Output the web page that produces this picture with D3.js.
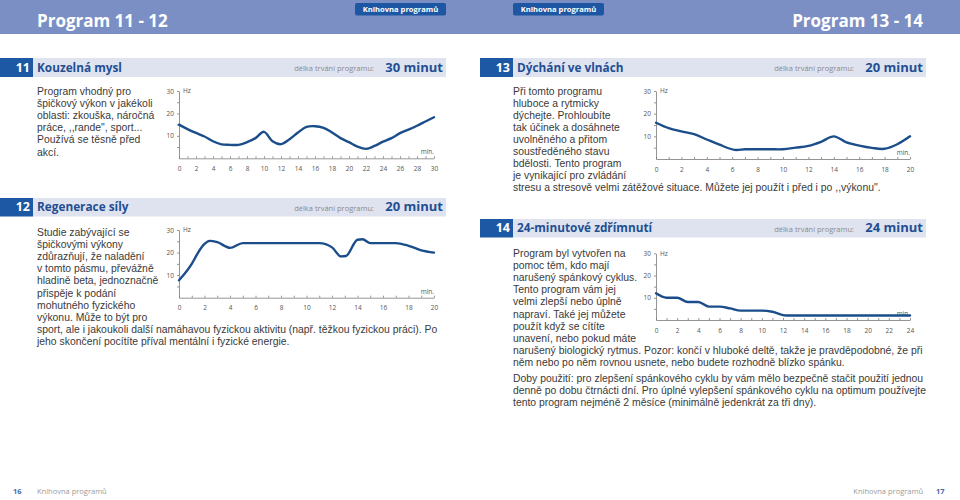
<!DOCTYPE html>
<html><head><meta charset="utf-8">
<script src="https://cdn.jsdelivr.net/npm/d3@7"></script>
<style>
body{margin:0;background:#fff;}
svg{display:block;font-family:"Liberation Sans",Arial,sans-serif;}
.axis text{font-family:"Open Sans",sans-serif;font-size:6.5px;fill:#555;}
.axis path,.axis line{stroke:#7a7a7a;stroke-width:0.8;}
</style></head><body>
<svg id="page" width="960" height="500"></svg>
<script>
// ---------- data ----------
const chart11Min = [0,1,2,3,4,5,6,7,8,9,10,11,12,13,14,15,16,17,18,19,20,21,22,23,24,25,26,27,28,29,30];
const chart11Hz  = [15,13,11.3,9.7,7.6,6.2,6,6,7.2,9,11.8,7.6,6.3,8.5,11.5,14,14.3,13.6,11.5,9,7.2,5.2,4.2,5.5,7.4,9,11.2,12.8,14.5,16.4,18.3];
const chart11Ticks = [0,2,4,6,8,10,12,14,16,18,20,22,24,26,28,30];

const chart12Min = [0,1,1.5,2,2.4,3,4,5,6,8,10,11,12,12.7,13.1,14,14.4,15,16,17,18,19,20];
const chart12Hz  = [7.7,15,20,23.8,25.2,24.6,22.1,24.2,24.2,24.2,24.2,24.2,22.3,18.3,18.5,25.7,25.9,24.2,24.2,24.2,23,21,20];
const chart12Ticks = [0,2,4,6,8,10,12,14,16,18,20];

const chart13Min = [0,1,2,3,4,5,6.2,7,8,9,10,11,12,13,14,15,16,17,18,19,20];
const chart13Hz  = [16,13.6,12.2,11,8.6,6.3,4,4.3,4.3,4.3,4.3,5,5.8,7.6,10,7.3,5.9,4.9,4.5,6.5,10];
const chart13Ticks = [0,2,4,6,8,10,12,14,16,18,20];

const chart14Min = [0,1,2,3,4,5,6,7,8,9,10,11,12.3,14,16,18,20,22,24];
const chart14Hz  = [12,10,10,8.1,8.1,6,6,5.2,4.2,4.2,4.2,3.7,2,2,2,2,2,2,2];
const chart14Ticks = [0,2,4,6,8,10,12,14,16,18,20,22,24];

const hzTicks = [10,20,30];

const text11 = ["Program vhodný pro","špičkový výkon v jakékoli","oblasti: zkouška, náročná","práce, ,,rande\", sport...","Používá se těsně před","akcí."];
const text12 = ["Studie zabývající se","špičkovými výkony","zdůrazňují, že naladění","v tomto pásmu, převážně","hladině beta, jednoznačně","přispěje k podání","mohutného fyzického","výkonu. Může to být pro","sport, ale i jakoukoli další namáhavou fyzickou aktivitu (např. těžkou fyzickou práci). Po","jeho skončení pocítíte příval mentální i fyzické energie."];
const text13 = ["Při tomto programu","hluboce a rytmicky","dýchejte. Prohloubíte","tak účinek a dosáhnete","uvolněného a přitom","soustředěného stavu","bdělosti. Tento program","je vynikající pro zvládání","stresu a stresově velmi zátěžové situace. Můžete jej použít i před i po ,,výkonu\"."];
const text14a = ["Program byl vytvořen na","pomoc těm, kdo mají","narušený spánkový cyklus.","Tento program vám jej","velmi zlepší nebo úplně","napraví. Také jej můžete","použít když se cítíte","unavení, nebo pokud máte","narušený biologický rytmus. Pozor: končí v hluboké deltě, takže je pravděpodobné, že při","něm nebo po něm rovnou usnete, nebo budete rozhodně blízko spánku."];
const text14b = ["Doby použití: pro zlepšení spánkového cyklu by vám mělo bezpečně stačit použití jednou","denně po dobu čtrnácti dní.  Pro úplné vylepšení spánkového cyklu na optimum používejte","tento program nejméně 2 měsíce (minimálně jedenkrát za tři dny)."];

// ---------- drawing ----------
const svg = d3.select("#page");
const C = {band:"#7b8fc5", badge:"#1d56a2", sec:"#dfe3f0", box:"#1d58a4", title:"#1f4f92", body:"#3a3a3a", line:"#1b4d8a"};

svg.append("rect").attr("x",0).attr("y",0).attr("width",960).attr("height",34).attr("fill",C.band);
function badge(x){
  svg.append("rect").attr("x",x).attr("y",3).attr("width",91).attr("height",12.5).attr("rx",2).attr("fill",C.badge);
  svg.append("text").attr("x",x+45.5).attr("y",12.2).attr("text-anchor","middle")
    .attr("fill","#fff").attr("font-size",7.6).attr("font-weight","bold").attr("font-family","Open Sans, sans-serif").text("Knihovna programů");
}
badge(355); badge(513);
svg.append("text").attr("x",37).attr("y",26.5).attr("fill","#fff").attr("font-size",17).attr("font-weight","bold")
  .attr("font-family","Open Sans, sans-serif").text("Program 11 - 12");
svg.append("text").attr("x",923).attr("y",26.5).attr("text-anchor","end").attr("fill","#fff").attr("font-size",17).attr("font-weight","bold")
  .attr("font-family","Open Sans, sans-serif").text("Program 13 - 14");

function secHeader(x0,y0,h,num,title,dur){
  svg.append("rect").attr("x",x0+33).attr("y",y0).attr("width",413).attr("height",h).attr("fill",C.sec);
  svg.append("rect").attr("x",x0).attr("y",y0).attr("width",33).attr("height",h).attr("fill",C.box);
  const by = y0+h/2+4.2;
  svg.append("text").attr("x",x0+30).attr("y",by).attr("text-anchor","end").attr("fill","#fff")
    .attr("font-size",12.5).attr("font-weight","bold").attr("font-family","Open Sans, sans-serif").text(num);
  svg.append("text").attr("x",x0+37).attr("y",by).attr("fill",C.title)
    .attr("font-size",11.8).attr("font-weight","bold").attr("font-family","Open Sans, sans-serif").text(title);
  svg.append("text").attr("x",x0+443).attr("y",by).attr("text-anchor","end").attr("fill",C.title)
    .attr("font-size",13).attr("font-weight","bold").attr("font-family","Open Sans, sans-serif").text(dur);
  svg.append("text").attr("x",x0+374).attr("y",by-0.5).attr("text-anchor","end").attr("fill","#8a8a8a")
    .attr("font-size",7.5).attr("font-family","Open Sans, sans-serif").text("délka trvání programu:");
}
secHeader(0,58,19,"11","Kouzelná mysl","30 minut");
secHeader(0,198,18.5,"12","Regenerace síly","20 minut");
secHeader(480,58,19,"13","Dýchání ve vlnách","20 minut");
secHeader(480,219,18.5,"14","24-minutové zdřímnutí","24 minut");

function para(x,y,lines,lh){
  const t = svg.append("text").attr("x",x).attr("y",y).attr("fill",C.body).attr("font-size",10.4);
  lines.forEach((l,i)=>t.append("tspan").attr("x",x).attr("y",y+i*lh).text(l));
}
para(37,95,text11,12.1);
para(37,236,text12,12.1);
para(513,95,text13,12.0);
para(513,257,text14a,12.1);
para(513,382,text14b,12.1);

function chart(x0,x1,yb,yt,maxMin,mins,hz,ticks,curve){
  const x = d3.scaleLinear().domain([0,maxMin]).range([x0,x1]);
  const y = d3.scaleLinear().domain([0,30]).range([yb,yt]);
  const g = svg.append("g");
  const allMin = d3.range(0,maxMin+1,1);
  g.append("g").attr("class","axis").attr("transform",`translate(0,${yb})`)
    .call(d3.axisBottom(x).tickValues(allMin).tickSizeInner(-2).tickSizeOuter(0).tickPadding(8)
      .tickFormat(d=>ticks.includes(d)?d:""));
  g.append("g").attr("class","axis").attr("transform",`translate(${x0},0)`)
    .call(d3.axisLeft(y).tickValues([5,10,15,20,25,30]).tickSizeInner(2).tickSizeOuter(0).tickPadding(3)
      .tickFormat(d=>hzTicks.includes(d)?d:""));
  g.append("text").attr("x",x0+4).attr("y",yt+2.3).attr("font-size",6.5).attr("fill","#555")
    .attr("font-family","Open Sans, sans-serif").text("Hz");
  g.append("text").attr("x",x1).attr("y",yb-4).attr("text-anchor","end").attr("font-size",6.5).attr("fill","#555")
    .attr("font-family","Open Sans, sans-serif").text("min.");
  const pts = mins.map((m,i)=>[m,hz[i]]);
  g.append("path").datum(pts).attr("fill","none").attr("stroke",C.line).attr("stroke-width",2.4)
    .attr("stroke-linejoin","round").attr("stroke-linecap","round")
    .attr("d",d3.line().x(d=>x(d[0])).y(d=>y(d[1])).curve(curve));
}
chart(179,434,158.3,91,30,chart11Min,chart11Hz,chart11Ticks,d3.curveCatmullRom.alpha(0.5));
chart(179,434,297.7,230,20,chart12Min,chart12Hz,chart12Ticks,d3.curveMonotoneX);
chart(656,910,159,91,20,chart13Min,chart13Hz,chart13Ticks,d3.curveCatmullRom.alpha(0.5));
chart(656,910,320,253.3,24,chart14Min,chart14Hz,chart14Ticks,d3.curveMonotoneX);

const foot = svg.append("g").attr("font-family","Open Sans, sans-serif").attr("font-size",7.5);
foot.append("text").attr("x",13).attr("y",494).attr("fill","#4a6aa8").attr("font-weight","bold").text("16");
foot.append("text").attr("x",37).attr("y",494).attr("fill","#9a9a9a").text("Knihovna programů");
foot.append("text").attr("x",923).attr("y",494).attr("text-anchor","end").attr("fill","#9a9a9a").text("Knihovna programů");
foot.append("text").attr("x",936).attr("y",494).attr("fill","#4a6aa8").attr("font-weight","bold").text("17");
</script>
</body></html>
